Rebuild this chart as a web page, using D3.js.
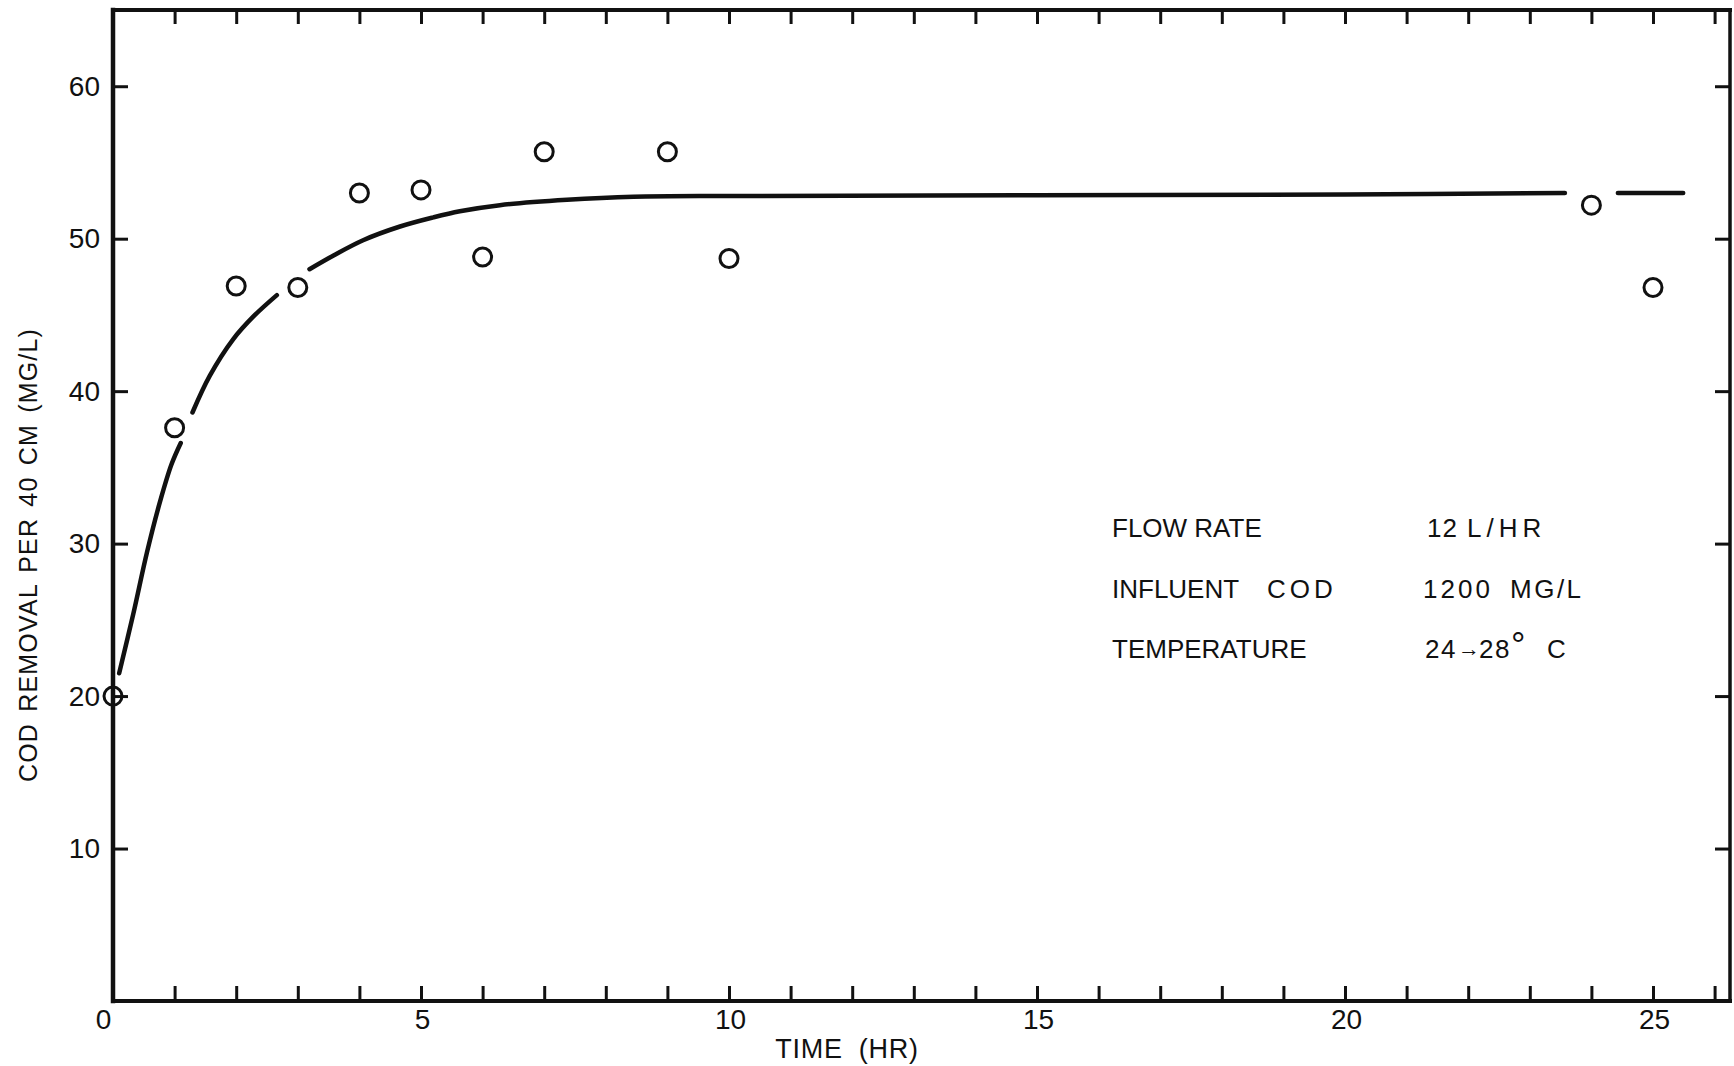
<!DOCTYPE html>
<html>
<head>
<meta charset="utf-8">
<script src="https://cdn.jsdelivr.net/npm/d3@7"></script>
<style>
  html, body { margin: 0; padding: 0; background: #ffffff; }
  svg { display: block; }
  text { font-family: "Liberation Sans", Arial, sans-serif; fill: #111; }
</style>
</head>
<body>
<svg id="chart" width="1734" height="1066"></svg>
<script>
// Measured COD removal (mg/L per 40 cm of bed) against elapsed time (hr)
const hours      = [0, 1, 2, 3, 4, 5, 6, 7, 9, 10, 24, 25];
const codRemoval = [20.0, 37.6, 46.9, 46.8, 53.0, 53.2, 48.8, 55.7, 55.7, 48.7, 52.2, 46.8];

// Smoothed trend line, drawn as separate pieces so it breaks around the circles it passes
const trendPiece1 = [[0.10, 21.5], [0.33, 25.4], [0.55, 29.4], [0.76, 32.7], [0.95, 35.2], [1.10, 36.6]];
const trendPiece2 = [[1.29, 38.6], [1.57, 41.0], [1.95, 43.4], [2.28, 44.9], [2.66, 46.3]];
const trendPiece3 = [[3.19, 48.0], [3.58, 48.9], [4.06, 49.9], [4.66, 50.8], [5.20, 51.4], [5.63, 51.8],
                     [6.28, 52.2], [7.37, 52.55], [8.45, 52.75], [10.07, 52.8], [15, 52.85], [20, 52.9], [23.57, 53.0]];
const trendPiece4 = [[24.43, 53.0], [25.49, 53.0]];

// Axis ticks
const xMinorTicks = d3.range(1, 27);
const xTickLabels = [0, 5, 10, 15, 20, 25];
const yTickLabels = [10, 20, 30, 40, 50, 60];

// Operating conditions block
const conditionNames   = ["FLOW RATE", "INFLUENT", "TEMPERATURE"];
const flowRate         = ["12", "L/HR"];
const influentCod      = ["1200", "MG/L"];
const temperatureRange = ["24", "28"];

const svg = d3.select("#chart");

const x = d3.scaleLinear().domain([0, 26.25]).range([113, 1730]);
const y = d3.scaleLinear().domain([0, 65]).range([1001, 10]);

// Ticks on all four sides, pointing into the plot
function styleTicks(g) {
  g.select(".domain").remove();
  g.selectAll(".tick line").attr("stroke", "#111").attr("stroke-width", 3);
}

svg.append("g").attr("transform", `translate(0,${y(0)})`)
  .call(d3.axisBottom(x).tickValues(xMinorTicks).tickSize(-15).tickFormat(""))
  .call(styleTicks);

svg.append("g").attr("transform", `translate(0,${y(65)})`)
  .call(d3.axisTop(x).tickValues(xMinorTicks).tickSize(-14).tickFormat(""))
  .call(styleTicks);

svg.append("g").attr("transform", `translate(${x(0)},0)`)
  .call(d3.axisLeft(y).tickValues(yTickLabels).tickSize(-15).tickPadding(13))
  .call(styleTicks)
  .call(g => g.selectAll(".tick text")
    .attr("font-size", 28)
    .attr("font-family", "Liberation Sans, Arial, sans-serif")
    .attr("fill", "#111"));

svg.append("g").attr("transform", `translate(${x(26.25)},0)`)
  .call(d3.axisRight(y).tickValues(yTickLabels).tickSize(-15).tickFormat(""))
  .call(styleTicks);

// Bottom tick labels
svg.append("g").attr("transform", `translate(0,${y(0)})`)
  .call(d3.axisBottom(x).tickValues(xTickLabels).tickSize(0).tickPadding(8))
  .call(g => g.select(".domain").remove())
  .call(g => g.selectAll(".tick text")
    .attr("font-size", 28)
    .attr("font-family", "Liberation Sans, Arial, sans-serif")
    .attr("fill", "#111")
    .attr("dx", d => d === 0 ? -10 : 1));

// Frame
const frame = svg.append("g").attr("stroke", "#111").attr("stroke-linecap", "square");
frame.append("line").attr("x1", x(0)).attr("x2", x(0)).attr("y1", y(65)).attr("y2", y(0)).attr("stroke-width", 4.5);
frame.append("line").attr("x1", x(0)).attr("x2", x(26.25)).attr("y1", y(0)).attr("y2", y(0)).attr("stroke-width", 4);
frame.append("line").attr("x1", x(0)).attr("x2", x(26.25)).attr("y1", y(65)).attr("y2", y(65)).attr("stroke-width", 4);
frame.append("line").attr("x1", x(26.25)).attr("x2", x(26.25)).attr("y1", y(65)).attr("y2", y(0)).attr("stroke-width", 3.5);

// Trend line
const line = d3.line().x(d => x(d[0])).y(d => y(d[1])).curve(d3.curveCatmullRom.alpha(0.5));
svg.append("g")
  .selectAll("path")
  .data([trendPiece1, trendPiece2, trendPiece3, trendPiece4])
  .join("path")
  .attr("d", line)
  .attr("fill", "none")
  .attr("stroke", "#111")
  .attr("stroke-width", 4.5)
  .attr("stroke-linecap", "round");

// Observations
svg.append("g")
  .selectAll("circle")
  .data(hours.map((h, i) => [h, codRemoval[i]]))
  .join("circle")
  .attr("cx", d => x(d[0]))
  .attr("cy", d => y(d[1]))
  .attr("r", 9)
  .attr("fill", "none")
  .attr("stroke", "#111")
  .attr("stroke-width", 3);

// Axis titles
svg.append("text")
  .attr("x", 847).attr("y", 1058)
  .attr("text-anchor", "middle")
  .attr("font-size", 27)
  .attr("letter-spacing", 0.7)
  .attr("word-spacing", 8)
  .text("TIME (HR)");

svg.append("text")
  .attr("transform", "translate(37,555) rotate(-90)")
  .attr("text-anchor", "middle")
  .attr("font-size", 25)
  .attr("letter-spacing", 1.2)
  .attr("word-spacing", 3)
  .text("COD REMOVAL PER 40 CM (MG/L)");

// Operating conditions
const rowBase = [537, 598, 658];
const info = svg.append("g").attr("font-size", 26);

conditionNames.forEach((name, i) => {
  info.append("text").attr("x", 1112).attr("y", rowBase[i]).text(name);
});
info.append("text").attr("x", 1267).attr("y", rowBase[1]).attr("letter-spacing", 4).text("COD");

info.append("text").attr("x", 1427).attr("y", rowBase[0]).attr("letter-spacing", 1).text(flowRate[0]);
info.append("text").attr("x", 1467).attr("y", rowBase[0]).attr("letter-spacing", 5).text(flowRate[1]);
info.append("text").attr("x", 1423).attr("y", rowBase[1]).attr("letter-spacing", 3).text(influentCod[0]);
info.append("text").attr("x", 1510).attr("y", rowBase[1]).attr("letter-spacing", 2.5).text(influentCod[1]);

const temp = info.append("text").attr("y", rowBase[2]);
temp.append("tspan").attr("x", 1425).attr("letter-spacing", 1.5).text(temperatureRange[0]);
temp.append("tspan").attr("x", 1458).attr("font-size", 22).attr("dy", -2).text("→");
temp.append("tspan").attr("x", 1479).attr("dy", 2).attr("letter-spacing", 1.5).text(temperatureRange[1]);
temp.append("tspan").attr("x", 1511).attr("font-size", 36).text("°");
temp.append("tspan").attr("x", 1547).text("C");
</script>
</body>
</html>
